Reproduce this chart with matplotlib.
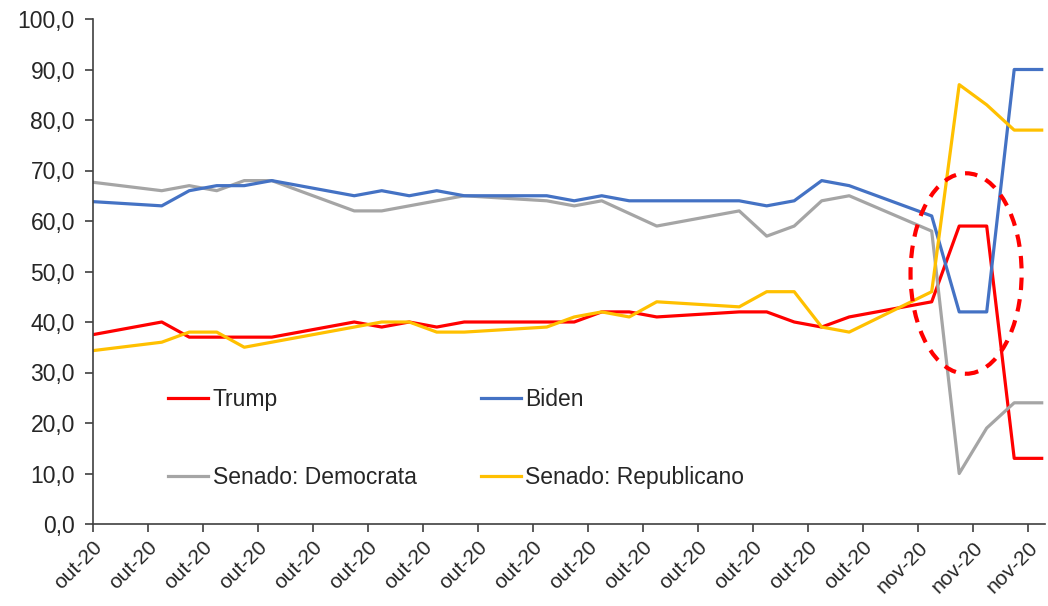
import pandas as pd
import matplotlib
matplotlib.use('Agg')
import matplotlib.pyplot as plt
import matplotlib.dates as mdates
from matplotlib.patches import Ellipse

plt.rcParams['font.family'] = ['Liberation Sans', 'DejaVu Sans']

# dados (dias úteis)
datas = ['2020-10-02', '2020-10-05', '2020-10-06', '2020-10-07', '2020-10-08', '2020-10-09',
         '2020-10-12', '2020-10-13', '2020-10-14', '2020-10-15', '2020-10-16',
         '2020-10-19', '2020-10-20', '2020-10-21', '2020-10-22', '2020-10-23',
         '2020-10-26', '2020-10-27', '2020-10-28', '2020-10-29', '2020-10-30',
         '2020-11-02', '2020-11-03', '2020-11-04', '2020-11-05', '2020-11-06']

trump = [37, 40, 37, 37, 37, 37, 40, 39, 40, 39, 40, 40, 40, 42, 42, 41,
         42, 42, 40, 39, 41, 44, 59, 59, 13, 13]
biden = [64, 63, 66, 67, 67, 68, 65, 66, 65, 66, 65, 65, 64, 65, 64, 64,
         64, 63, 64, 68, 67, 61, 42, 42, 90, 90]
senado_dem = [68, 66, 67, 66, 68, 68, 62, 62, 63, 64, 65, 64, 63, 64, 61.5, 59,
              62, 57, 59, 64, 65, 58, 10, 19, 24, 24]
senado_rep = [34, 36, 38, 38, 35, 36, 39, 40, 40, 38, 38, 39, 41, 42, 41, 44,
              43, 46, 46, 39, 38, 46, 87, 83, 78, 78]

ticks_datas = pd.date_range('2020-10-03', '2020-11-06', freq='2D')
rotulos = ['out-20'] * 15 + ['nov-20'] * 3

# pontos no meio do dia
x = pd.to_datetime(datas) + pd.Timedelta(hours=12)

fig = plt.figure(figsize=(10.48, 6.06), dpi=100)
ax = fig.add_axes([93 / 1048, 82 / 606, 952 / 1048, 505 / 606])

cor_texto = '#262626'
lw = 2.3
ax.plot(x, trump, color='#FF0000', lw=lw, label='Trump')
ax.plot(x, senado_dem, color='#A5A5A5', lw=lw, label='Senado: Democrata')
ax.plot(x, biden, color='#4472C4', lw=lw, label='Biden')
ax.plot(x, senado_rep, color='#FFC000', lw=lw, label='Senado: Republicano')

inicio = pd.Timestamp('2020-10-03')
ax.set_xlim(inicio, inicio + pd.Timedelta(days=34.62))
ax.set_ylim(0, 100)

ax.set_xticks(ticks_datas)
ax.set_xticklabels(rotulos, rotation=45, ha='right', rotation_mode='anchor',
                   fontsize=15, color=cor_texto)
ax.set_yticks(range(0, 101, 10))
ax.set_yticklabels([f'{v},0' for v in range(0, 101, 10)], fontsize=16.5, color=cor_texto)
ax.tick_params(axis='both', direction='out', length=6, width=1.2, color='#404040')
ax.tick_params(axis='x', pad=4)
ax.tick_params(axis='y', pad=7)

for lado in ['top', 'right']:
    ax.spines[lado].set_visible(False)
for lado in ['left', 'bottom']:
    ax.spines[lado].set_color('#404040')
    ax.spines[lado].set_linewidth(1.2)

# destaque
centro = mdates.date2num(inicio) + 31.75
elipse = Ellipse((centro, 49.6), width=4.04, height=39.7, fill=False,
                 edgecolor='#FF0000', lw=3, ls=(0, (3, 2.2)), clip_on=False, zorder=5)
ax.add_patch(elipse)

ax.legend(ncol=2, loc='upper left', bbox_to_anchor=(0.0788, 0.269), frameon=False,
          fontsize=16.5, handlelength=1.75, handletextpad=0.2, columnspacing=2.8,
          labelspacing=2.4, borderpad=0, borderaxespad=0, labelcolor=cor_texto)

fig.savefig('out.png', dpi=100)
